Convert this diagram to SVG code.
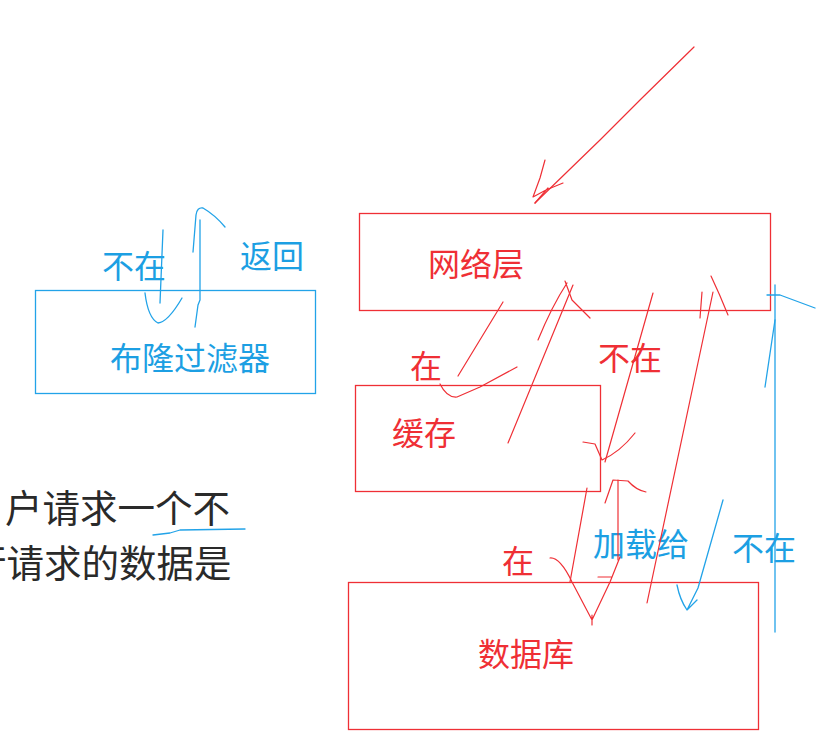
<svg xmlns="http://www.w3.org/2000/svg" width="828" height="751" viewBox="0 0 828 751">
<style>
.t{font-family:"Noto Sans CJK SC","Microsoft YaHei",sans-serif;font-size:32px}
.r{fill:#ef2f35}
.b{fill:#1c9fe3}
.k{fill:#2a2a2a;font-size:37.5px}
.box{fill:none;stroke-width:1.3}
.rs{fill:none;stroke:#ef2f35;stroke-width:1.2;stroke-linecap:round;stroke-linejoin:round}
.bs{fill:none;stroke:#22a3e8;stroke-width:1.3;stroke-linecap:round;stroke-linejoin:round}
</style>
<rect width="828" height="751" fill="#ffffff"/>
<g id="bloom">
<rect class="box" x="35.5" y="290.5" width="280" height="103" stroke="#22a3e8"/>
<text class="t b" x="110" y="370">布隆过滤器</text>
</g>
<g id="network">
<rect class="box" x="359.5" y="213.5" width="411" height="97" stroke="#ef2f35"/>
<text class="t r" x="428" y="276">网络层</text>
</g>
<g id="cache">
<rect class="box" x="355.5" y="385.5" width="245" height="106" stroke="#ef2f35"/>
<text class="t r" x="392" y="445">缓存</text>
</g>
<g id="database">
<rect class="box" x="348.5" y="582.5" width="410" height="147" stroke="#ef2f35"/>
<text class="t r" x="478" y="666">数据库</text>
</g>
<g id="labels">
<text class="t b" x="102" y="278">不在</text>
<text class="t b" x="240" y="268">返回</text>
<text class="t r" x="410" y="378">在</text>
<text class="t r" x="598" y="370">不在</text>
<text class="t r" x="502" y="573">在</text>
<text class="t b" x="593" y="556">加载给</text>
<text class="t b" x="732" y="560">不在</text>
<text class="t k" x="5" y="522">户请求一个不</text>
<text class="t k" x="-31" y="577">行请求的数据是</text>
</g>
<g id="connectors">
<path class="rs" d="M694,47 L640,100 L600,140 L535,203"/>
<path class="rs" d="M545,160 L540,178 L533,197 L546,190 L563,183 M535,203 L548,188"/>
<path class="rs" d="M503,302 L458,376"/>
<path class="rs" d="M440,384 Q447,398 457,397 L480,387 L517,367"/>
<path class="rs" d="M508,443 L573,285"/>
<path class="rs" d="M538,340 Q552,306 567,283 M565,281 L572,300 L590,318"/>
<path class="rs" d="M653,293 L605,462"/>
<path class="rs" d="M583,442 L595,444 L602,460 Q620,452 635,433"/>
<path class="rs" d="M713,292 L647,603"/>
<path class="rs" d="M700,318 L702,292 M711,276 Q720,295 728,315"/>
<path class="rs" d="M587,488 L570,582"/>
<path class="rs" d="M550,558 Q560,557 572,582 L592,620 L610,582 L620,557 M598,577 L612,577 M592,615 L592,625"/>
<path class="rs" d="M618,560 L618,480"/>
<path class="rs" d="M605,503 L613,480 L628,481 Q636,490 646,492"/>
<path class="bs" d="M163,230 L160,303"/>
<path class="bs" d="M145,293 Q148,318 158,323 Q168,322 182,298"/>
<path class="bs" d="M195,327 L198,305 L200,300 L200,220"/>
<path class="bs" d="M193,252 L196,215 Q197,207 203,208 Q215,215 225,227"/>
<path class="bs" d="M775,285 L775,632"/>
<path class="bs" d="M767,295 L780,295 L815,308 M765,387 L772,340 L775,320"/>
<path class="bs" d="M723,500 L698,588 L687,610 M677,585 Q680,600 687,610 L697,600"/>
<path class="bs" d="M153,535 L170,533 L180,530 L245,529"/>
</g>
</svg>
